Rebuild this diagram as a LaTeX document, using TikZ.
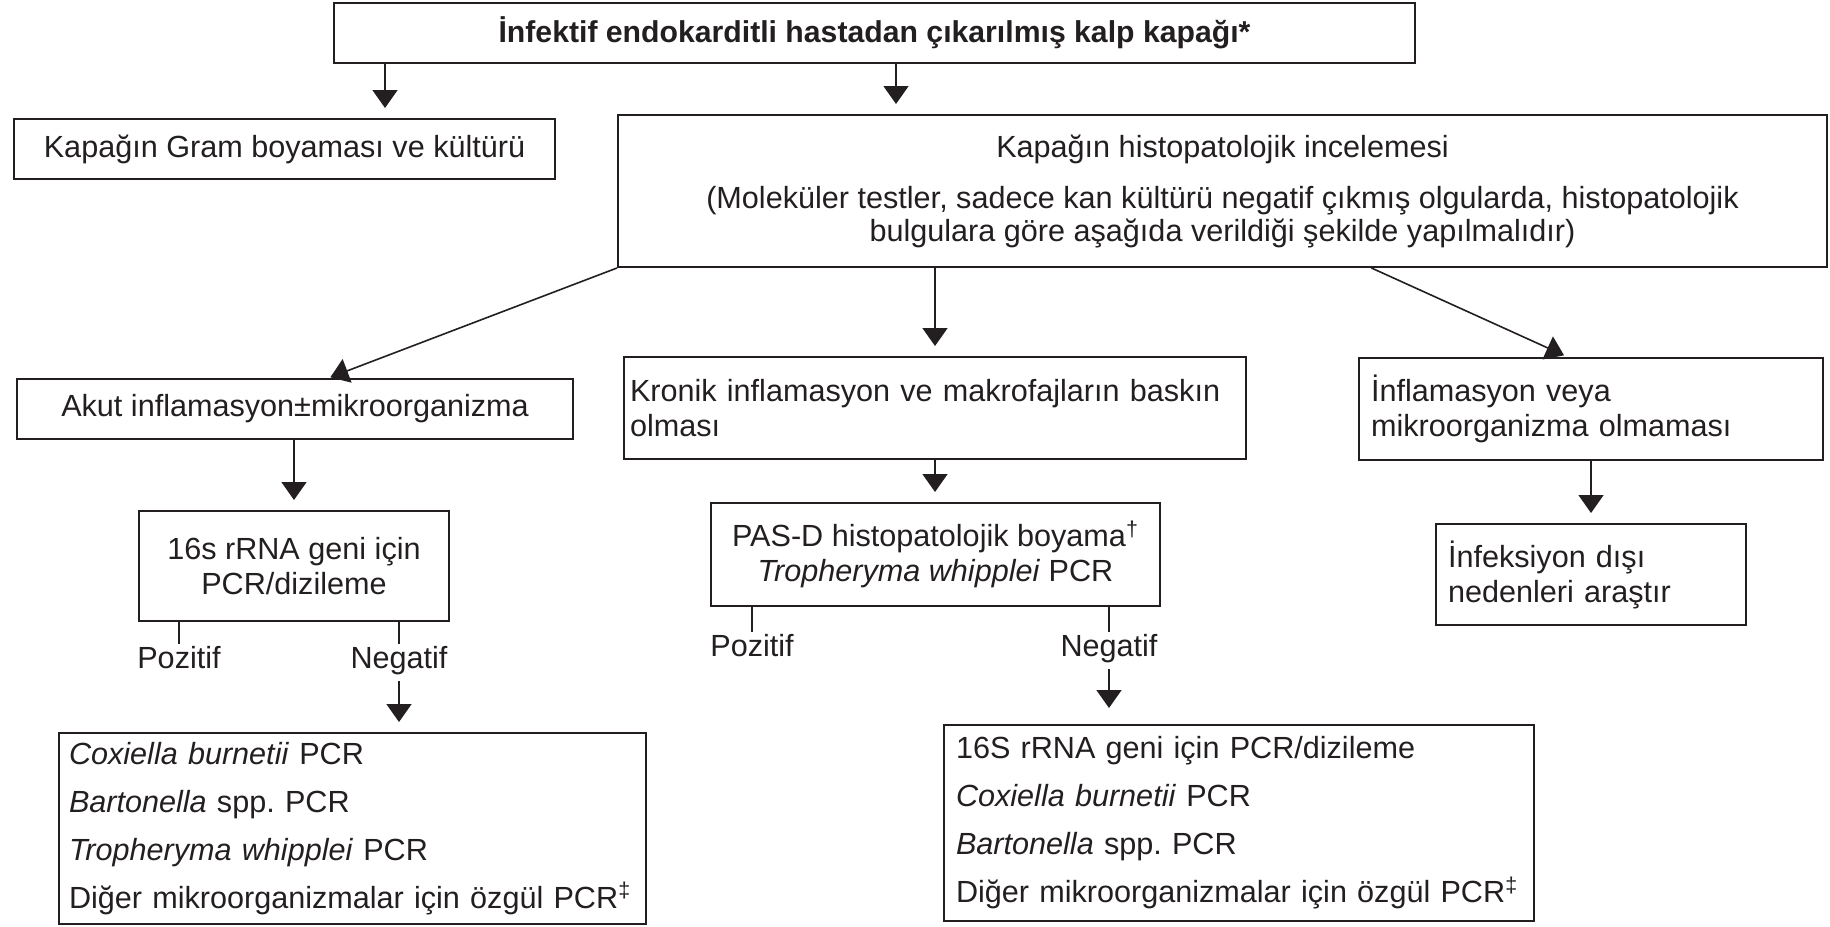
\documentclass[tikz,border=0pt]{standalone}
\usepackage{fontspec}
\setmainfont{Liberation Sans}
\usepackage{tikz}
\usetikzlibrary{arrows.meta, calc}
\usepackage{xcolor}
\definecolor{ink}{RGB}{35,31,32}
\newcommand{\boxfont}{\fontsize{15.3}{17.5}\selectfont}
\frenchspacing
\tikzset{
  box/.style={draw=ink, line width=1pt, text=ink, inner sep=0pt, font=\boxfont},
  arr/.style={draw=ink, line width=0.8pt, -{Triangle[width=12.5pt,length=9pt]}, shorten >=5pt},
  stub/.style={draw=ink, line width=0.8pt},
  lbl/.style={inner sep=1pt, text=ink, font=\boxfont}
}

\begin{document}
\begin{tikzpicture}[x=0.5pt, y=-0.5pt]
  \useasboundingbox (0,0) rectangle (1830,926);

  % boxes
  \node[box, anchor=north west, minimum width=540.5pt, minimum height=30pt, font=\fontsize{15.1}{17}\selectfont\bfseries] (valve) at (333,2) {İnfektif endokarditli hastadan çıkarılmış kalp kapağı*};
  \node[box, anchor=north west, minimum width=270.5pt, minimum height=30pt] (gram) at (13,118) {Kapağın Gram boyaması ve kültürü};
  \node[box, anchor=north west, minimum width=604.5pt, minimum height=76pt, align=center, font=\fontsize{15.3}{16.5}\selectfont] (histo) at (617,114) {Kapağın histopatolojik incelemesi\\[9pt](Moleküler testler, sadece kan kültürü negatif çıkmış olgularda, histopatolojik\\bulgulara göre aşağıda verildiği şekilde yapılmalıdır)};

  \node[box, anchor=north west, minimum width=278pt, minimum height=30pt] (akut) at (16,378) {Akut inflamasyon±mikroorganizma};
  \node[box, anchor=north west, minimum height=51pt, inner xsep=3pt, text width=305pt, align=left] (kronik) at (623,356) {Kronik inflamasyon ve makrofajların baskın\\olması};
  \node[box, anchor=north west, minimum height=51pt, inner xsep=6pt, text width=220pt, align=left] (infl) at (1358,357) {İnflamasyon veya\\mikroorganizma olmaması};

  \node[box, anchor=north west, minimum width=155pt, minimum height=55pt, align=center] (pcr16) at (138,510) {16s rRNA geni için\\PCR/dizileme};
  \node[box, anchor=north west, minimum width=224.5pt, minimum height=51.5pt, align=center] (pas) at (710,502) {PAS-D histopatolojik boyama\textsuperscript{†}\\\textit{Tropheryma whipplei} PCR};
  \node[box, anchor=north west, minimum height=50.5pt, inner xsep=6pt, text width=143pt, align=left] (infek) at (1435,523) {İnfeksiyon dışı\\nedenleri araştır};

  \node[box, anchor=north west, minimum height=95.5pt, inner xsep=5pt, text width=283.5pt, align=left, font=\fontsize{15.3}{24}\selectfont] (testsA) at (58,732) {\textit{Coxiella burnetii} PCR\\\textit{Bartonella} spp. PCR\\\textit{Tropheryma whipplei} PCR\\\mbox{Diğer mikroorganizmalar için özgül PCR\textsuperscript{‡}}};
  \node[box, anchor=north west, minimum height=98pt, inner xsep=6pt, text width=283pt, align=left, font=\fontsize{15.3}{24}\selectfont] (testsB) at (943,724) {16S rRNA geni için PCR/dizileme\\\textit{Coxiella burnetii} PCR\\\textit{Bartonella} spp. PCR\\\mbox{Diğer mikroorganizmalar için özgül PCR\textsuperscript{‡}}};

  % result labels
  \node[lbl, anchor=north] (posA) at (179,644) {Pozitif};
  \node[lbl, anchor=north] (negA) at (399,644) {Negatif};
  \node[lbl, anchor=north] (posB) at (752,632) {Pozitif};
  \node[lbl, anchor=north] (negB) at (1109,632) {Negatif};

  \coordinate (gx) at (385,0);
  \coordinate (hx) at (896,0);

  % connectors
  \draw[arr] (valve.south -| gx) -- (gram.north -| gx);
  \draw[arr] (valve.south -| hx) -- (histo.north -| hx);
  \draw[arr, shorten >=1pt] (histo.south west) -- ($(akut.north west)!0.56!(akut.north east)$);
  \draw[arr] (histo.south -| kronik.north) -- (kronik.north);
  \draw[arr, shorten >=2pt] ($(histo.south west)!0.623!(histo.south east)$) -- ($(infl.north west)!0.45!(infl.north east)$);
  \draw[arr] (akut.south -| pcr16.north) -- (pcr16.north);
  \draw[arr] (kronik.south) -- (pas.north -| kronik.south);
  \draw[arr] (infl.south) -- (infek.north -| infl.south);

  \draw[stub] (pcr16.south -| posA) -- (posA.north);
  \draw[stub] (pcr16.south -| negA) -- (negA.north);
  \draw[stub] (pas.south -| posB) -- (posB.north);
  \draw[stub] (pas.south -| negB) -- (negB.north);

  \draw[arr, shorten <=2pt] (negA.south) -- (testsA.north -| negA.south);
  \draw[arr, shorten <=2pt, shorten >=8pt] (negB.south) -- (testsB.north -| negB.south);
\end{tikzpicture}
\end{document}
